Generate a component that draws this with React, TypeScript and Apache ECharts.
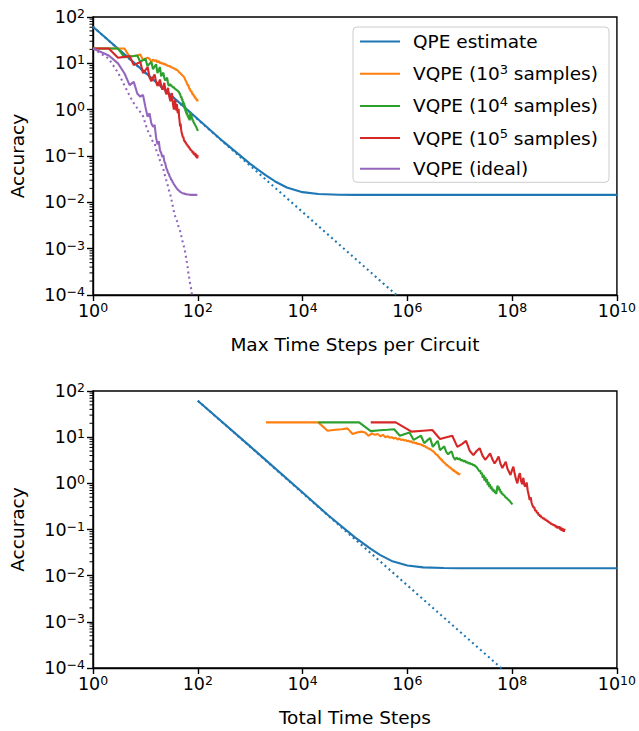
import React, { useEffect, useRef } from "react";
import * as echarts from "echarts";

// ---------- data ----------
const maxTimeSteps = [
  1, 2, 3, 4, 5, 6, 7, 8, 9, 10, 11, 12, 13, 14, 15, 16, 17, 18, 19, 20,
  21, 22, 23, 24, 25, 26, 27, 28, 29, 30, 31, 32, 33, 34, 35, 36, 37, 38, 39, 40,
  41, 42, 43, 44, 45, 46, 47, 48, 49, 50, 51, 52, 53, 54, 55, 56, 57, 58, 59, 60,
  61, 62, 63, 64, 65, 66, 67, 68, 69, 70, 71, 72, 73, 74, 75, 76, 77, 78, 79, 80,
  81, 82, 83, 84, 85, 86, 87, 88, 89, 90, 91, 92, 93, 94, 95, 96, 97, 98, 99, 100,
];

// samples per VQPE run (orange, green, red)
const sampleCounts = [1e3, 1e4, 1e5];

// log10(accuracy) per max time steps n = 1..100
const orangeLogAcc = [
  1.32, 1.32, 1.32, 1.32, 1.14, 1.16, 1.17, 1.19, 1.07, 1.10,
  1.12, 1.10, 1.03, 1.08, 1.05, 1.07, 1.02, 1.05, 1.00, 1.02,
  0.99, 1.00, 0.97, 0.99, 0.95, 0.97, 0.94, 0.95, 0.93, 0.94,
  0.91, 0.92, 0.90, 0.91, 0.88, 0.89, 0.87, 0.88, 0.85, 0.86,
  0.84, 0.85, 0.82, 0.83, 0.80, 0.81, 0.78, 0.78, 0.76, 0.76,
  0.74, 0.74, 0.72, 0.71, 0.70, 0.68, 0.67, 0.64, 0.63, 0.61,
  0.62, 0.57, 0.58, 0.53, 0.55, 0.50, 0.52, 0.47, 0.48, 0.44,
  0.46, 0.42, 0.43, 0.39, 0.41, 0.37, 0.39, 0.35, 0.36, 0.33,
  0.35, 0.31, 0.33, 0.29, 0.31, 0.27, 0.30, 0.25, 0.28, 0.24,
  0.26, 0.22, 0.25, 0.21, 0.24, 0.19, 0.22, 0.18, 0.21, 0.19,
];

const greenLogAcc = [
  1.32, 1.32, 1.32, 1.13, 1.15, 1.16, 1.17, 1.03, 1.07, 1.10,
  0.94, 0.99, 1.03, 0.87, 0.93, 0.98, 0.79, 0.86, 0.92, 0.72,
  0.76, 0.80, 0.68, 0.63, 0.67, 0.69, 0.57, 0.51, 0.56, 0.52,
  0.54, 0.49, 0.51, 0.47, 0.49, 0.45, 0.46, 0.43, 0.44, 0.41,
  0.42, 0.39, 0.40, 0.37, 0.36, 0.33, 0.30, 0.26, 0.28, 0.20,
  0.23, 0.12, 0.18, 0.06, 0.14, 0.02, 0.09, -0.04, 0.03, -0.08,
  -0.02, -0.12, -0.07, -0.15, -0.12, -0.18, -0.14, -0.21, -0.17, -0.23,
  -0.15, -0.05, -0.10, -0.07, -0.16, -0.12, -0.20, -0.17, -0.23, -0.21,
  -0.25, -0.23, -0.27, -0.26, -0.29, -0.28, -0.31, -0.30, -0.33, -0.33,
  -0.35, -0.35, -0.37, -0.38, -0.39, -0.40, -0.42, -0.42, -0.44, -0.46,
];

const redLogAcc = [
  1.32, 1.32, 1.12, 1.14, 1.155, 0.96, 1.00, 1.03, 0.79, 0.85,
  0.92, 0.70, 0.61, 0.70, 0.76, 0.60, 0.51, 0.58, 0.65, 0.52,
  0.43, 0.50, 0.58, 0.42, 0.33, 0.40, 0.47, 0.32, 0.25, 0.18,
  0.28, 0.36, 0.20, 0.08, 0.00, 0.15, 0.22, 0.05, -0.02, 0.12,
  -0.05, -0.07, 0.02, -0.15, -0.25, -0.36, -0.30, -0.42, -0.48, -0.52,
  -0.52, -0.60, -0.58, -0.64, -0.63, -0.69, -0.67, -0.72, -0.70, -0.75,
  -0.73, -0.77, -0.75, -0.79, -0.77, -0.81, -0.79, -0.83, -0.81, -0.85,
  -0.83, -0.87, -0.85, -0.89, -0.87, -0.90, -0.88, -0.92, -0.89, -0.93,
  -0.90, -0.95, -0.91, -0.97, -0.93, -0.98, -0.94, -0.97, -0.93, -1.00,
  -0.95, -1.02, -0.96, -1.03, -0.97, -1.04, -0.98, -1.05, -0.99, -1.02,
];

const purpleLogAcc = [
  1.32, 1.17, 1.00, 0.78, 0.53, 0.60, 0.35, 0.28, 0.32, 0.06,
  -0.15, -0.08, -0.30, -0.37, -0.33, -0.60, -0.75, -0.68, -0.88, -0.93,
  -1.02, -0.98, -1.12, -1.16, -1.26, -1.30, -1.36, -1.38, -1.44, -1.46,
  -1.51, -1.52, -1.56, -1.58, -1.61, -1.63, -1.65, -1.67, -1.69, -1.70,
  -1.72, -1.73, -1.74, -1.75, -1.76, -1.77, -1.78, -1.78, -1.79, -1.79,
  -1.80, -1.80, -1.81, -1.81, -1.81, -1.82, -1.82, -1.82, -1.82, -1.83,
  -1.83, -1.83, -1.83, -1.83, -1.83, -1.83, -1.83, -1.83, -1.83, -1.83,
  -1.84, -1.84, -1.84, -1.84, -1.84, -1.84, -1.84, -1.84, -1.84, -1.84,
  -1.84, -1.84, -1.84, -1.84, -1.84, -1.84, -1.84, -1.84, -1.84, -1.84,
  -1.84, -1.84, -1.84, -1.84, -1.84, -1.84, -1.84, -1.84, -1.84, -1.84,
];

// dotted purple (no noise floor), n = 1..80
const purpleNoFloorLogAcc = [
  1.32, 1.10, 0.80, 0.52, 0.30, 0.14, 0.03, -0.05, -0.14, -0.30,
  -0.45, -0.52, -0.62, -0.70, -0.72, -0.86, -0.95, -1.00, -1.10, -1.16,
  -1.24, -1.28, -1.38, -1.44, -1.52, -1.58, -1.66, -1.72, -1.80, -1.84,
  -1.92, -1.98, -2.06, -2.12, -2.20, -2.24, -2.30, -2.32, -2.38, -2.40,
  -2.46, -2.48, -2.54, -2.55, -2.60, -2.62, -2.68, -2.70, -2.76, -2.78,
  -2.84, -2.86, -2.92, -2.94, -3.00, -3.02, -3.06, -3.10, -3.16, -3.20,
  -3.26, -3.30, -3.36, -3.40, -3.46, -3.52, -3.56, -3.60, -3.66, -3.68,
  -3.74, -3.76, -3.82, -3.84, -3.90, -3.94, -3.98, -4.02, -4.06, -4.10,
];

// QPE estimate (blue)
const qpeSteps = [1, 10, 100, 300, 1e3, 2e3, 3e3, 5e3, 1e4, 2e4, 5e4, 1e5, 1e10];
const qpeTotalSteps = [1e2, 1e3, 1e4, 3e4, 1e5, 2e5, 3e5, 5e5, 1e6, 2e6, 5e6, 1e7, 1e10];
const qpeLogAcc = [1.79, 0.8, -0.2, -0.68, -1.17, -1.42, -1.55, -1.68, -1.78, -1.82, -1.835, -1.84, -1.84];
// dotted blue (no floor)
const qpeIdealSteps = [1, 1e6];
const qpeIdealTotalSteps = [1e2, 1e8];
const qpeIdealLogAcc = [1.79, -4.21];

const legendNames = [
  "QPE estimate",
  "VQPE (10³ samples)",
  "VQPE (10⁴ samples)",
  "VQPE (10⁵ samples)",
  "VQPE (ideal)",
];
const legendRich: Record<string, string> = {
  "QPE estimate": "{t|QPE estimate}",
  "VQPE (10³ samples)": "{t|VQPE (10}{s|3}{t| samples)}",
  "VQPE (10⁴ samples)": "{t|VQPE (10}{s|4}{t| samples)}",
  "VQPE (10⁵ samples)": "{t|VQPE (10}{s|5}{t| samples)}",
  "VQPE (ideal)": "{t|VQPE (ideal)}",
};
const colors = ["#1f77b4", "#ff7f0e", "#2ca02c", "#d62728", "#9467bd"];

// ---------- helpers ----------
const FONT = "DejaVu Sans";
const pow10Label = (v: number) => {
  const e = Math.round(Math.log10(v));
  return "{b|10}{s|" + String(e).replace("-", "−") + "}";
};
const tickRich = {
  b: { fontSize: 17.5, lineHeight: 20, fontFamily: FONT, color: "#000" },
  s: { fontSize: 12.5, lineHeight: 11, verticalAlign: "top", fontFamily: FONT, color: "#000" },
};
const minorTickValues: number[] = [];
for (let e = -4; e < 2; e++) {
  for (let m = 2; m <= 9; m++) minorTickValues.push(m * Math.pow(10, e));
}

const pairs = (xs: number[], logs: number[]) =>
  logs.map((l, i) => [xs[i], Math.pow(10, l)]);

const LW = 2.1;
const lineSeries = (
  name: string,
  data: number[][],
  color: string,
  axis: number,
  dotted = false
) => ({
  type: "line",
  name,
  data,
  xAxisIndex: axis,
  yAxisIndex: axis,
  showSymbol: false,
  symbol: "none",
  clip: true,
  lineStyle: { color, width: LW, type: dotted ? [2, 3.3] : "solid" },
  itemStyle: { color },
  emphasis: { disabled: true },
});

const xAxisDef = (gridIndex: number, name: string) => ({
  type: "log",
  logBase: 10,
  gridIndex,
  min: 1,
  max: 1e10,
  interval: 2,
  name,
  nameLocation: "middle",
  nameGap: 40,
  nameTextStyle: { fontSize: 18.5, fontFamily: FONT, color: "#000" },
  axisLine: { show: true, onZero: false, lineStyle: { color: "#000", width: 1.4 } },
  axisTick: { show: true, length: 6, lineStyle: { color: "#000", width: 1.4 } },
  axisLabel: { formatter: pow10Label, rich: tickRich, margin: 6 },
  splitLine: { show: false },
  minorTick: { show: false },
  minorSplitLine: { show: false },
});

const yAxisMain = (gridIndex: number) => ({
  type: "log",
  logBase: 10,
  gridIndex,
  position: "left",
  min: 1e-4,
  max: 100,
  interval: 1,
  name: "Accuracy",
  nameLocation: "middle",
  nameGap: 66,
  nameRotate: 90,
  nameTextStyle: { fontSize: 18.5, fontFamily: FONT, color: "#000" },
  axisLine: { show: true, lineStyle: { color: "#000", width: 1.4 } },
  axisTick: { show: true, length: 6, lineStyle: { color: "#000", width: 1.4 } },
  axisLabel: { formatter: pow10Label, rich: tickRich, margin: 8 },
  splitLine: { show: false },
  minorTick: { show: false },
});

const buildOption = () => {
  const series: any[] = [];
  // top panel
  series.push(lineSeries(legendNames[0], pairs(qpeSteps, qpeLogAcc), colors[0], 0));
  series.push(lineSeries("QPE (no floor)", pairs(qpeIdealSteps, qpeIdealLogAcc), colors[0], 0, true));
  const vq = [orangeLogAcc, greenLogAcc, redLogAcc];
  vq.forEach((arr, k) => {
    series.push(lineSeries(legendNames[k + 1], pairs(maxTimeSteps, arr), colors[k + 1], 0));
  });
  series.push(lineSeries(legendNames[4], pairs(maxTimeSteps, purpleLogAcc), colors[4], 0));
  series.push(
    lineSeries("VQPE (ideal, no floor)", pairs(maxTimeSteps, purpleNoFloorLogAcc), colors[4], 0, true)
  );
  // bottom panel
  series.push(lineSeries(legendNames[0], pairs(qpeTotalSteps, qpeLogAcc), colors[0], 1));
  series.push(
    lineSeries("QPE (no floor)", pairs(qpeIdealTotalSteps, qpeIdealLogAcc), colors[0], 1, true)
  );
  vq.forEach((arr, k) => {
    const s = sampleCounts[k];
    const total = maxTimeSteps.map((n) => s * n * (n + 1));
    series.push(lineSeries(legendNames[k + 1], pairs(total, arr), colors[k + 1], 1));
  });

  return {
    animation: false,
    backgroundColor: "#fff",
    textStyle: { fontFamily: FONT },
    grid: [
      { left: 92, top: 17, width: 526, height: 278, show: true, borderColor: "#000", borderWidth: 1.4, backgroundColor: "transparent" },
      { left: 92, top: 391, width: 526, height: 277, show: true, borderColor: "#000", borderWidth: 1.4, backgroundColor: "transparent" },
    ],
    xAxis: [xAxisDef(0, "Max Time Steps per Circuit"), xAxisDef(1, "Total Time Steps")],
    yAxis: [yAxisMain(0), yAxisMain(1)],
    legend: {
      show: true,
      orient: "vertical",
      left: 353,
      top: 27,
      data: legendNames,
      icon: "rect",
      itemWidth: 40,
      itemHeight: 2,
      itemGap: 11.7,
      padding: [5, 11, 4, 7],
      borderColor: "#cccccc",
      borderWidth: 1,
      borderRadius: 4,
      backgroundColor: "rgba(255,255,255,0.8)",
      selectedMode: false,
      formatter: (name: string) => legendRich[name] ?? name,
      textStyle: {
        padding: [0, 0, 0, 8],
        rich: {
          t: { fontSize: 18.5, lineHeight: 22, fontFamily: FONT, color: "#000" },
          s: { fontSize: 13, lineHeight: 12, verticalAlign: "top", fontFamily: FONT, color: "#000" },
        },
      },
    },
    series,
  };
};

export default function App() {
  const ref = useRef<HTMLDivElement>(null);
  useEffect(() => {
    if (!ref.current) return;
    const chart = echarts.init(ref.current, null, { renderer: "svg" });
    chart.setOption(buildOption() as any);
    // minor log ticks on the y axes, placed through the axes' own scales
    const graphics: any[] = [];
    [0, 1].forEach((g) => {
      const x0 = chart.convertToPixel({ xAxisIndex: g } as any, 1) as unknown as number;
      minorTickValues.forEach((v) => {
        const y = chart.convertToPixel({ yAxisIndex: g } as any, v) as unknown as number;
        graphics.push({
          type: "line",
          silent: true,
          shape: { x1: x0 - 3.5, y1: y, x2: x0, y2: y },
          style: { stroke: "#000", lineWidth: 1 },
        });
      });
    });
    chart.setOption({ graphic: graphics });
    return () => chart.dispose();
  }, []);
  return (
    <div
      ref={ref}
      style={{ position: "fixed", left: 0, top: 0, width: 639, height: 731, background: "#fff" }}
    />
  );
}
